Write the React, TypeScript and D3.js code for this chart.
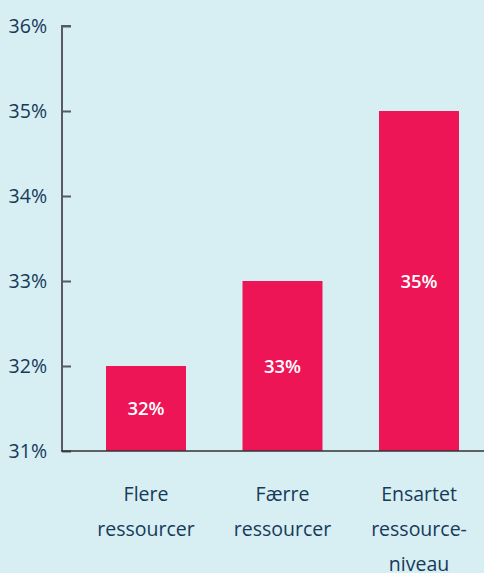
import React, { useRef, useEffect } from 'react';
import * as d3 from 'd3';

const categories: string[][] = [
  ['Flere', 'ressourcer'],
  ['Færre', 'ressourcer'],
  ['Ensartet', 'ressource-', 'niveau'],
];
const values: number[] = [32, 33, 35];
const yTicks: number[] = [31, 32, 33, 34, 35, 36];

const W = 484;
const H = 573;

const App = () => {
  const svgRef = useRef<SVGSVGElement>(null);

  useEffect(() => {
    const svg = d3.select(svgRef.current);
    svg.selectAll('*').remove();

    svg.append('rect')
      .attr('width', W)
      .attr('height', H)
      .attr('fill', '#d7eef2');

    const keys = categories.map((c) => c.join(' '));

    // y scale 31..36
    const y = d3.scaleLinear()
      .domain([31, 36])
      .range([451, 26]);

    const x = d3.scaleBand()
      .domain(keys)
      .range([77.75, 487.25])
      .paddingInner(0.414)
      .paddingOuter(0.207);

    const font = "'Open Sans', sans-serif";

    // bars
    svg.selectAll('.bar')
      .data(values)
      .enter()
      .append('rect')
      .attr('class', 'bar')
      .attr('x', (d, i) => x(keys[i])!)
      .attr('width', x.bandwidth())
      .attr('y', (d) => y(d))
      .attr('height', (d) => y(31) - y(d))
      .attr('fill', '#ee1556');

    // value labels
    svg.selectAll('.val')
      .data(values)
      .enter()
      .append('text')
      .attr('class', 'val')
      .attr('x', (d, i) => x(keys[i])! + x.bandwidth() / 2)
      .attr('y', (d) => (y(d) + y(31)) / 2)
      .attr('dy', '0.36em')
      .attr('text-anchor', 'middle')
      .attr('fill', '#ffffff')
      .style('font-family', font)
      .style('font-size', '18.5px')
      .style('font-weight', 600)
      .text((d) => d + '%');

    // y axis
    const yAxis = svg.append('g')
      .attr('transform', 'translate(62,0)')
      .call(d3.axisRight(y).tickValues(yTicks).tickSize(9).tickFormat(() => ''));
    yAxis.select('.domain')
      .attr('stroke', '#555b60')
      .attr('stroke-width', 2)
      .attr('d', `M9,${y(36)}H0V${y(31)}`);
    yAxis.selectAll('.tick line')
      .attr('stroke', '#555b60')
      .attr('stroke-width', 2);

    svg.selectAll('.ylab')
      .data(yTicks)
      .enter()
      .append('text')
      .attr('class', 'ylab')
      .attr('x', 47)
      .attr('y', (d) => y(d))
      .attr('dy', '0.36em')
      .attr('text-anchor', 'end')
      .attr('fill', '#163a5a')
      .style('font-family', font)
      .style('font-size', '19.5px')
      .text((d) => d + '%');

    // x axis baseline
    svg.append('line')
      .attr('x1', 61)
      .attr('x2', W)
      .attr('y1', y(31))
      .attr('y2', y(31))
      .attr('stroke', '#333')
      .attr('stroke-width', 1.5);

    // category labels
    const cat = svg.selectAll('.cat')
      .data(categories)
      .enter()
      .append('text')
      .attr('class', 'cat')
      .attr('text-anchor', 'middle')
      .attr('fill', '#163a5a')
      .style('font-family', font)
      .style('font-size', '19.5px');
    cat.selectAll('tspan')
      .data((d, i) => d.map((t) => ({ t, i })))
      .enter()
      .append('tspan')
      .attr('x', (d) => x(keys[d.i])! + x.bandwidth() / 2)
      .attr('y', (d, j) => 501 + j * 35)
      .text((d) => d.t);
  }, []);

  return (
    <svg
      ref={svgRef}
      width={W}
      height={H}
      style={{ position: 'absolute', left: 0, top: 0 }}
    />
  );
};

export default App;
